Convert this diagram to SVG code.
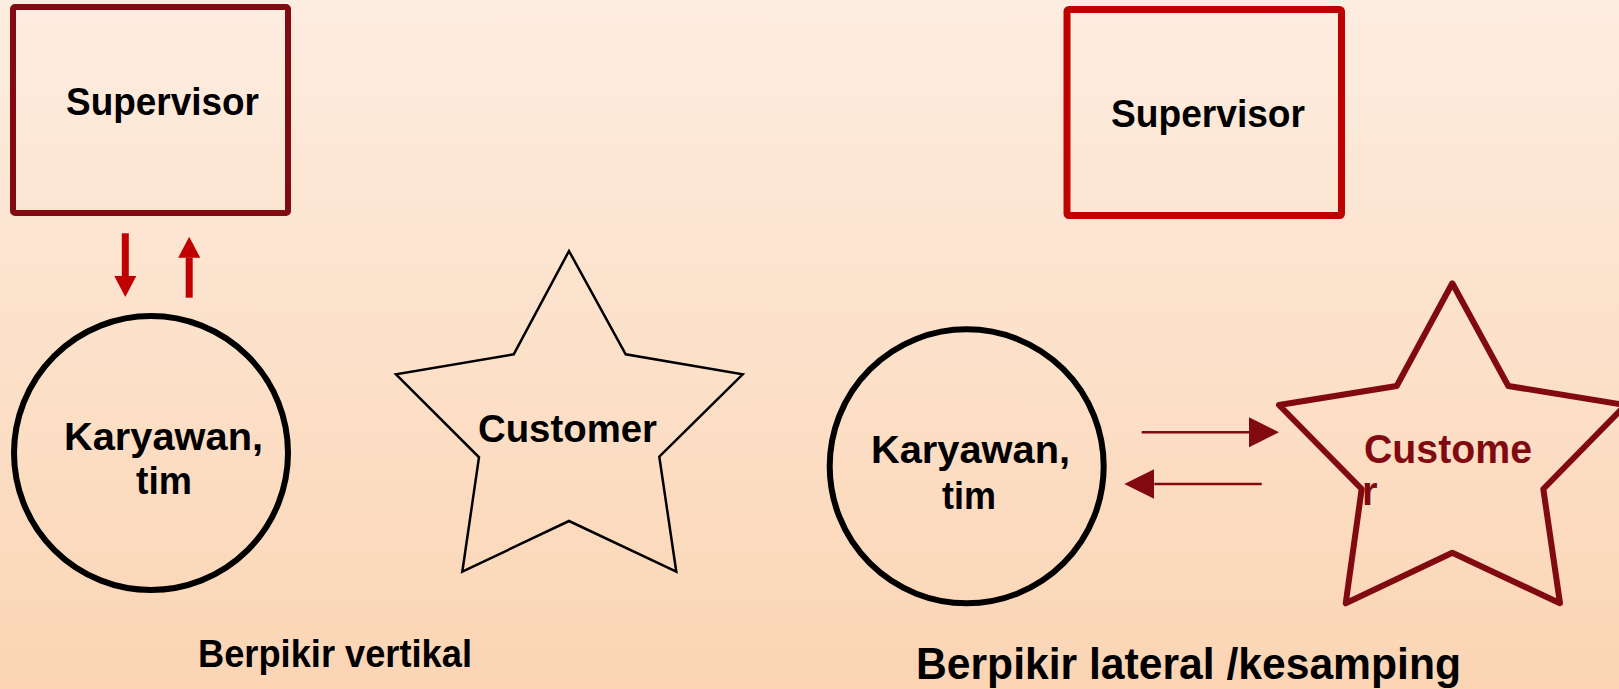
<svg xmlns="http://www.w3.org/2000/svg" width="1619" height="689" viewBox="0 0 1619 689">
<defs>
<linearGradient id="bg" x1="0" y1="0" x2="0" y2="1">
<stop offset="0" stop-color="#fdede0"/>
<stop offset="1" stop-color="#fbd5b4"/>
</linearGradient>
<marker id="ahThin" markerUnits="userSpaceOnUse" markerWidth="30" markerHeight="30" viewBox="0 0 30 30" refX="0" refY="15" orient="auto">
<path d="M0,0 L30,15 L0,30 z" fill="#800a10"/>
</marker>
<marker id="ahThick" markerUnits="userSpaceOnUse" markerWidth="22" markerHeight="22" viewBox="0 0 21 22" refX="0" refY="11" orient="auto">
<path d="M0,0 L21,11 L0,22 z" fill="#c00000"/>
</marker>
</defs>
<style>
.lbl{font-family:"Liberation Sans",Arial,sans-serif;font-weight:bold;font-size:38px;fill:#000}
.red{fill:#800a10;font-size:40px}
.box1{fill:none;stroke:#820a12;stroke-width:6}
.box2{fill:none;stroke:#c00000;stroke-width:7}
.circ{fill:none;stroke:#000;stroke-width:6}
.star1{fill:none;stroke:#000;stroke-width:2.5;stroke-linejoin:miter}
.star2{fill:none;stroke:#800a10;stroke-width:6;stroke-linejoin:round}
.thin{stroke:#800a10;stroke-width:2.5;fill:none}
.thick{stroke:#c00000;stroke-width:7;fill:none}
</style>
<rect x="0" y="0" width="1619" height="689" fill="url(#bg)"/>

<g id="supervisor-left">
<rect class="box1" x="13" y="7" width="275" height="206" rx="2"/>
<text class="lbl" x="66" y="115" textLength="193" lengthAdjust="spacingAndGlyphs">Supervisor</text>
</g>

<g id="karyawan-left">
<circle class="circ" cx="151" cy="453" r="137"/>
<text class="lbl" x="64" y="450" textLength="199" lengthAdjust="spacingAndGlyphs">Karyawan,</text>
<text class="lbl" x="136" y="494" textLength="56" lengthAdjust="spacingAndGlyphs">tim</text>
</g>

<g id="customer-left">
<polygon class="star1" points="569,251 625.7,354.3 742.7,374.3 659.3,456.7 676.3,571.7 569,521 462.3,571.7 479,457.3 396,374.3 513.7,354.3"/>
<text class="lbl" x="478" y="442" textLength="179" lengthAdjust="spacingAndGlyphs">Customer</text>
</g>

<g id="supervisor-right">
<rect class="box2" x="1067" y="9.5" width="274.5" height="206" rx="2"/>
<text class="lbl" x="1111" y="127" textLength="194" lengthAdjust="spacingAndGlyphs">Supervisor</text>
</g>

<g id="karyawan-right">
<circle class="circ" cx="966.7" cy="466.3" r="137"/>
<text class="lbl" x="871" y="463" textLength="199" lengthAdjust="spacingAndGlyphs">Karyawan,</text>
<text class="lbl" x="942" y="509" textLength="54" lengthAdjust="spacingAndGlyphs">tim</text>
</g>

<g id="customer-right">
<polygon class="star2" points="1452.3,283.3 1508.3,386 1625.6,405 1543.3,489 1560,603.3 1452.3,552.7 1345.7,603.3 1361.7,489 1279,405 1396.7,386"/>
<text class="lbl red" x="1364" y="463" textLength="168" lengthAdjust="spacingAndGlyphs">Custome</text>
<text class="lbl red" x="1362" y="505">r</text>
</g>

<g id="connectors">
<line class="thick" x1="125.3" y1="233.3" x2="125.3" y2="276" marker-end="url(#ahThick)"/>
<line class="thick" x1="189.2" y1="297.7" x2="189.2" y2="257.7" marker-end="url(#ahThick)"/>
<line class="thin" x1="1141.7" y1="432.3" x2="1249" y2="432.3" marker-end="url(#ahThin)"/>
<line class="thin" x1="1261.7" y1="484" x2="1154.3" y2="484" marker-end="url(#ahThin)"/>
</g>

<g id="captions">
<text class="lbl" x="198" y="667" textLength="274" lengthAdjust="spacingAndGlyphs">Berpikir vertikal</text>
<text class="lbl" x="916" y="679" style="font-size:45px" textLength="545" lengthAdjust="spacingAndGlyphs">Berpikir lateral /kesamping</text>
</g>
</svg>
